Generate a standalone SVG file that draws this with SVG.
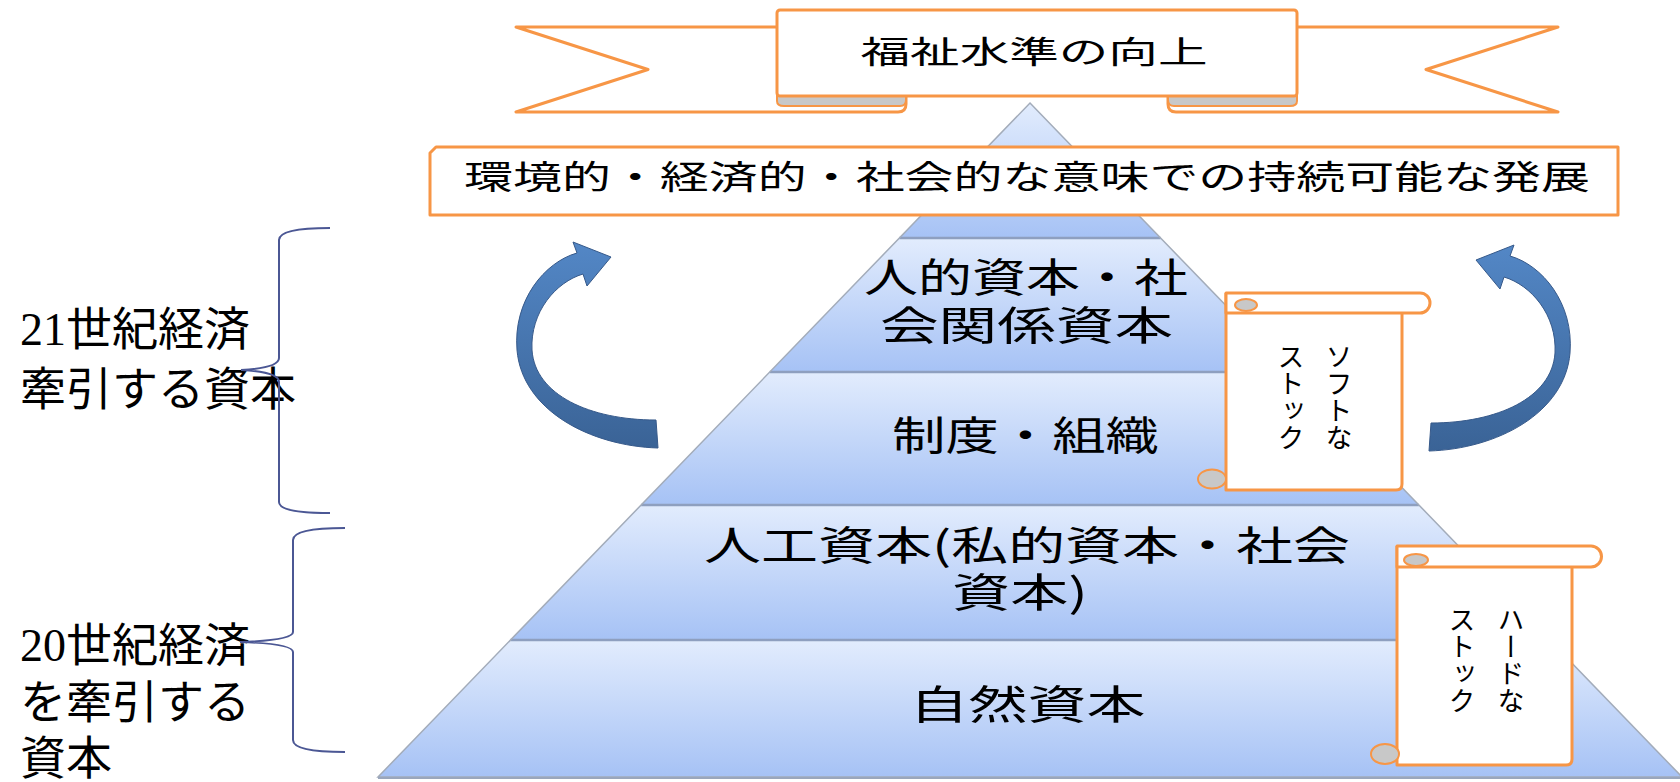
<svg xmlns="http://www.w3.org/2000/svg" width="1680" height="782" viewBox="0 0 1680 782">
<defs>
<linearGradient id="band" x1="0" y1="0" x2="0" y2="1">
<stop offset="0" stop-color="#e2ecfd"/>
<stop offset="1" stop-color="#a6c2f5"/>
</linearGradient>
<linearGradient id="arrowFill" x1="0" y1="0" x2="0" y2="1">
<stop offset="0" stop-color="#5387c6"/>
<stop offset="1" stop-color="#3a6396"/>
</linearGradient>
<path id="arrowShape" d="M 658 448 C 590 446 522 410 517 350 C 513 300 545 262 577 253 L 573 242 L 611 257 L 587 286 L 583 274 C 556 282 530 312 532 350 C 535 395 590 420 656 420 Z"/>
</defs>
<style>
.cjk { font-family: "Noto Sans CJK JP", "Noto Sans", sans-serif; fill: #000; }
.lbl { font-family: "Liberation Serif", "Noto Sans CJK JP", serif; font-size: 46px; fill: #000; }
.ol { fill: #fff; stroke: #f79646; stroke-width: 3; stroke-linejoin: round; }
.fold { fill: #c8c8c8; stroke: #f79646; stroke-width: 2; }
.band { fill: url(#band); }
.sep { stroke: #8e9fbf; stroke-width: 2.5; }
.brace { fill: none; stroke: #4b5794; stroke-width: 2; }
.vt { font-family: "Noto Sans CJK JP", sans-serif; font-size: 27px; writing-mode: vertical-rl; fill: #000; }
.arrow { fill: url(#arrowFill); stroke: #36598a; stroke-width: 1; }
</style>
<rect width="1680" height="782" fill="#fff"/>

<g id="pyramid">
<polygon class="band" points="1030,103 1160.6,238 899.4,238"/>
<polygon class="band" points="899.4,238 1160.6,238 1290.2,372 769.8,372"/>
<polygon class="band" points="769.8,372 1290.2,372 1418.9,505 641.1,505"/>
<polygon class="band" points="641.1,505 1418.9,505 1549.5,640 510.5,640"/>
<polygon class="band" points="510.5,640 1549.5,640 1682,777 378,777"/>
<line class="sep" x1="899.4" y1="238" x2="1160.6" y2="238"/>
<line class="sep" x1="769.8" y1="372" x2="1290.2" y2="372"/>
<line class="sep" x1="641.1" y1="505" x2="1418.9" y2="505"/>
<line class="sep" x1="510.5" y1="640" x2="1549.5" y2="640"/>
<polygon points="1030,103 1682,777 378,777" fill="none" stroke="#a3acba" stroke-width="1.5"/>
<line x1="378" y1="778" x2="1680" y2="778" stroke="#9aa6bc" stroke-width="2"/>
</g>

<g id="layer-human-social">
<text class="cjk" font-size="40" text-anchor="middle"><tspan x="1026" y="292" textLength="324" lengthAdjust="spacingAndGlyphs">人的資本・社</tspan><tspan x="1026.5" y="340" textLength="293" lengthAdjust="spacingAndGlyphs">会関係資本</tspan></text>
</g>
<g id="layer-institution">
<text class="cjk" x="1025.5" y="450" font-size="40" text-anchor="middle" textLength="267" lengthAdjust="spacingAndGlyphs">制度・組織</text>
</g>
<g id="layer-manmade">
<text class="cjk" font-size="40" text-anchor="middle"><tspan x="1027" y="560" textLength="646" lengthAdjust="spacingAndGlyphs">人工資本(私的資本・社会</tspan><tspan x="1020" y="607" textLength="136" lengthAdjust="spacingAndGlyphs">資本)</tspan></text>
</g>
<g id="layer-natural">
<text class="cjk" x="1027.5" y="719" font-size="40" text-anchor="middle" textLength="236" lengthAdjust="spacingAndGlyphs">自然資本</text>
</g>

<g id="ribbon-welfare">
<path class="ol" d="M 790 27 L 516 27 L 648 69.5 L 516 112 L 898 112 Q 906 112 906 104 L 906 90 L 790 90 Z"/>
<path class="ol" d="M 1284 27 L 1558 27 L 1426 69.5 L 1558 112 L 1176 112 Q 1168 112 1168 104 L 1168 90 L 1284 90 Z"/>
<path class="fold" d="M 777 96 L 777 101 Q 777 106 784 106 L 900 106 Q 906 106 906 100 L 906 96 Z"/>
<path class="fold" d="M 1297 96 L 1297 101 Q 1297 106 1290 106 L 1174 106 Q 1168 106 1168 100 L 1168 96 Z"/>
<rect class="ol" x="777" y="10" width="520" height="86" rx="3"/>
<text class="cjk" x="1034" y="63" font-size="31" text-anchor="middle" textLength="347" lengthAdjust="spacingAndGlyphs">福祉水準の向上</text>
</g>

<g id="banner-sustainable">
<path class="ol" d="M 436 147 L 1618 147 L 1618 215 L 430 215 L 430 153 Z"/>
<text class="cjk" x="1027" y="189" font-size="33" text-anchor="middle" textLength="1126" lengthAdjust="spacingAndGlyphs">環境的・経済的・社会的な意味での持続可能な発展</text>
</g>

<g id="scroll-soft">
<path class="ol" d="M 1226 293 L 1226 490 L 1396 490 Q 1402 490 1402 484 L 1402 313"/>
<path class="ol" d="M 1226 293 L 1420 293 A 10 10 0 0 1 1420 313 L 1226 313 Z"/>
<ellipse class="fold" cx="1246" cy="305" rx="11" ry="6"/>
<ellipse class="fold" cx="1212" cy="479" rx="14" ry="9.5"/>
<text class="vt" x="1339" y="343">ソフトな</text>
<text class="vt" x="1291" y="343">ストック</text>
</g>

<g id="scroll-hard">
<path class="ol" d="M 1397 546 L 1397 765 L 1566 765 Q 1572 765 1572 759 L 1572 567"/>
<path class="ol" d="M 1397 546 L 1591 546 A 10.5 10.5 0 0 1 1591 567 L 1397 567 Z"/>
<ellipse class="fold" cx="1416" cy="560" rx="12" ry="6"/>
<ellipse class="fold" cx="1385" cy="754" rx="14" ry="10"/>
<text class="vt" x="1511" y="606">ハードな</text>
<text class="vt" x="1462" y="606">ストック</text>
</g>

<g id="label-21c">
<text class="lbl" x="20" y="345">21世紀経済</text>
<text class="lbl" x="20" y="405">牽引する資本</text>
</g>
<g id="label-20c">
<text class="lbl" x="20" y="661">20世紀経済</text>
<text class="lbl" x="20" y="718">を牽引する</text>
<text class="lbl" x="20" y="774">資本</text>
</g>

<g id="connectors">
<path class="brace" d="M 330 228 C 300 228 279 231 279 240 L 279 358 C 279 366 260 369 241 370 C 260 371 279 374 279 382 L 279 502 C 279 510 300 513 330 513"/>
<path class="brace" d="M 345 528 C 315 528 293 531 293 540 L 293 632 C 293 638 270 641 240 642 C 270 643 293 646 293 652 L 293 740 C 293 749 315 752 345 752"/>
<use href="#arrowShape" class="arrow"/>
<use href="#arrowShape" class="arrow" transform="translate(2087,3) scale(-1,1)"/>
</g>
</svg>
